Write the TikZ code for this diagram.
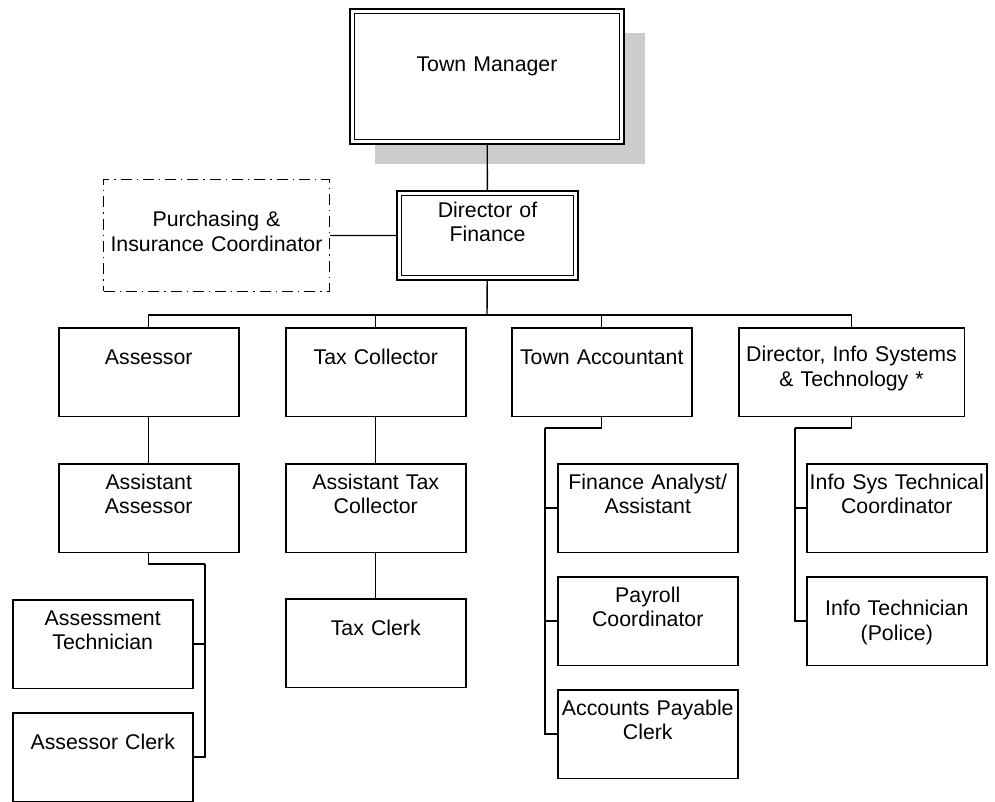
\documentclass[tikz,border=0pt]{standalone}
\usepackage{fontspec}
\setmainfont{Liberation Sans}
\usetikzlibrary{shadows}

\begin{document}
\begin{tikzpicture}[x=1pt,y=-1pt]
  \tikzstyle{post}=[draw,line width=1.5pt,inner sep=0pt,anchor=north west,align=center,text width=180pt,font=\fontsize{21.3}{24.5}\selectfont]
  \tikzstyle{one}=[text height=37pt,text depth=51.5pt]
  \tikzstyle{two}=[text height=25.5pt,text depth=63pt]
  \tikzstyle{head}=[post,fill=white,line width=1.6pt,double,double distance=3pt,outer sep=3.1pt]
  \tikzstyle{link}=[line width=1.4pt]

  \useasboundingbox (0,0) rectangle (995,802);

  % top of the chart
  \node[head,text width=269.8pt,text height=60pt,text depth=70.8pt,
        drop shadow={shadow xshift=23pt,shadow yshift=-22pt,fill=black!20,opacity=1}] (mgr) at (349,8) {Town Manager};
  \node[head,text width=176.8pt,text height=24pt,text depth=60.8pt] (dof) at (396,190) {Director of\\Finance};
  \node[post,line width=1.3pt,dash pattern=on 11pt off 5pt on 1.3pt off 5pt,text width=225.7pt,text height=47pt,text depth=64.7pt] (purch) at (103,179) {Purchasing \&\\Insurance Coordinator};

  % second row
  \foreach \name/\x/\text in {assr/58/Assessor, taxc/285/Tax Collector, acct/511/Town Accountant}
    \node[post,one] (\name) at (\x,327) {\text};
  \node[post,text width=225.5pt,text height=34pt,text depth=54.5pt] (dist) at (738,327) {Director, Info Systems\\\& Technology *};

  % third row and below
  \foreach \name/\x/\y/\text in {asas/58/463/{Assistant\\Assessor}, astc/285/463/{Assistant Tax\\Collector},
      astech/12/599/{Assessment\\Technician}, fina/557/463/{Finance Analyst/\\Assistant},
      payr/557/576/{Payroll\\Coordinator}, apay/557/689/{Accounts Payable\\Clerk},
      istc/806/463/{Info Sys Technical\\Coordinator}}
    \node[post,two] (\name) at (\x,\y) {\text};
  \foreach \name/\x/\y/\text in {taxk/285/598/Tax Clerk, asclk/12/712/Assessor Clerk}
    \node[post,one] (\name) at (\x,\y) {\text};
  \node[post,text height=39pt,text depth=49.5pt] (itpol) at (806,576) {Info Technician\\(Police)};

  \coordinate (bus) at (487,315);
  \coordinate (asj) at (205,564);
  \coordinate (acj) at (545,428);
  \coordinate (isj) at (795,428);

  \draw[link] (mgr) -- (dof);
  \draw[link] (purch) -- (dof);
  \draw[link] (dof) -- (bus);
  \foreach \to in {assr,taxc,acct,dist}
    { \draw[link] (bus) -| (\to); }

  \foreach \from/\to in {assr/asas,taxc/astc,astc/taxk}
    { \draw[link] (\from) -- (\to); }

  \draw[link] (asas) |- (asj);
  \foreach \to in {astech,asclk}
    { \draw[link] (asj) |- (\to); }
  \draw[link] (acct) |- (acj);
  \foreach \to in {fina,payr,apay}
    { \draw[link] (acj) |- (\to); }
  \draw[link] (dist) |- (isj);
  \foreach \to in {istc,itpol}
    { \draw[link] (isj) |- (\to); }

\end{tikzpicture}
\end{document}
